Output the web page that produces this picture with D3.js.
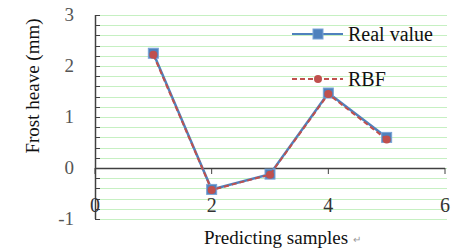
<!DOCTYPE html>
<html>
<head>
<meta charset="utf-8">
<style>
body { margin: 0; background: #fff; }
</style>
</head>
<body>
<svg width="455" height="250"></svg>
<script src="https://d3js.org/d3.v7.min.js"></script>
<script>
var samples = [1, 2, 3, 4, 5];
var realValue = [2.25, -0.42, -0.12, 1.47, 0.6];
var rbfValue = [2.22, -0.43, -0.13, 1.45, 0.56];
var xTicks = [0, 2, 4, 6];
var yTicks = [-1, 0, 1, 2, 3];

var FONT = "Liberation Serif";
var svg = d3.select("svg");
var x = d3.scaleLinear().domain([0, 6]).range([95, 445]);
var y = d3.scaleLinear().domain([-1, 3]).range([219, 15]);

// green gridlines every 0.2
var grid = d3.range(-1, 3.001, 0.2);
svg.append("g").selectAll("line").data(grid).enter().append("line")
  .attr("x1", x(0)).attr("x2", 447)
  .attr("y1", function(d) { return Math.round(y(d)) + 0.5; })
  .attr("y2", function(d) { return Math.round(y(d)) + 0.5; })
  .attr("stroke", "#c6f0c2").attr("stroke-width", 1);

// y axis with inner minor ticks
var yAxis = svg.append("g");
yAxis.append("line").attr("x1", 95.5).attr("x2", 95.5).attr("y1", y(3)).attr("y2", y(-1))
  .attr("stroke", "#404040").attr("stroke-width", 1.5);
yAxis.selectAll(".t").data(grid).enter().append("line")
  .attr("x1", 95).attr("x2", 100)
  .attr("y1", function(d) { return Math.round(y(d)) + 0.5; })
  .attr("y2", function(d) { return Math.round(y(d)) + 0.5; })
  .attr("stroke", "#404040");
yAxis.selectAll("text").data(yTicks).enter().append("text")
  .attr("x", 74).attr("y", function(d) { return y(d) + 6; })
  .attr("text-anchor", "end").attr("font-family", FONT).attr("font-size", 19).attr("fill", "#555")
  .text(function(d) { return d; });

// x axis at y = 0
var xAxis = svg.append("g");
xAxis.append("line").attr("x1", x(0)).attr("x2", x(6)).attr("y1", y(0) + 0.5).attr("y2", y(0) + 0.5)
  .attr("stroke", "#404040").attr("stroke-width", 1.5);
xAxis.selectAll(".t").data(xTicks).enter().append("line")
  .attr("x1", function(d) { return x(d); }).attr("x2", function(d) { return x(d); })
  .attr("y1", y(0)).attr("y2", y(0) + 6)
  .attr("stroke", "#404040");
xAxis.selectAll("text").data(xTicks).enter().append("text")
  .attr("x", function(d) { return x(d); }).attr("y", 212)
  .attr("text-anchor", "middle").attr("font-family", FONT).attr("font-size", 20).attr("fill", "#333")
  .text(function(d) { return d; });

// axis titles
svg.append("text").attr("transform", "translate(39,86) rotate(-90)")
  .attr("text-anchor", "middle").attr("font-family", FONT).attr("font-size", 19).attr("fill", "#111")
  .text("Frost heave (mm)");
svg.append("text").attr("x", 276).attr("y", 244)
  .attr("text-anchor", "middle").attr("font-family", FONT).attr("font-size", 19).attr("fill", "#111")
  .text("Predicting samples");
svg.append("text").attr("x", 353).attr("y", 243)
  .attr("font-size", 10).attr("fill", "#999").text("↵");

var line = function(vals) {
  return d3.line().x(function(d, i) { return x(samples[i]); }).y(function(d) { return y(d); })(vals);
};

// real value series
svg.append("path").attr("d", line(realValue)).attr("fill", "none")
  .attr("stroke", "#4f81bd").attr("stroke-width", 2.5);
svg.append("g").selectAll("rect").data(realValue).enter().append("rect")
  .attr("x", function(d, i) { return x(samples[i]) - 5; })
  .attr("y", function(d) { return y(d) - 5; })
  .attr("width", 10).attr("height", 10)
  .attr("fill", "#4f81bd").attr("stroke", "#7aa3d6").attr("stroke-width", 1);

// RBF series
svg.append("path").attr("d", line(rbfValue)).attr("fill", "none")
  .attr("stroke", "#c0504d").attr("stroke-width", 2).attr("stroke-dasharray", "5,3");
svg.append("g").selectAll("circle").data(rbfValue).enter().append("circle")
  .attr("cx", function(d, i) { return x(samples[i]); })
  .attr("cy", function(d) { return y(d); })
  .attr("r", 4).attr("fill", "#c0504d");

// legend
var lg = svg.append("g");
lg.append("line").attr("x1", 292).attr("x2", 343).attr("y1", 34).attr("y2", 34)
  .attr("stroke", "#4f81bd").attr("stroke-width", 2);
lg.append("rect").attr("x", 313).attr("y", 29).attr("width", 10).attr("height", 10)
  .attr("fill", "#4f81bd").attr("stroke", "#7aa3d6");
lg.append("text").attr("x", 348).attr("y", 41).attr("font-family", FONT).attr("font-size", 20).attr("fill", "#111").text("Real value");
lg.append("line").attr("x1", 292).attr("x2", 343).attr("y1", 79).attr("y2", 79)
  .attr("stroke", "#c0504d").attr("stroke-width", 2).attr("stroke-dasharray", "5,3");
lg.append("circle").attr("cx", 318).attr("cy", 79).attr("r", 4).attr("fill", "#c0504d");
lg.append("text").attr("x", 348).attr("y", 86).attr("font-family", FONT).attr("font-size", 20).attr("fill", "#111").text("RBF");
</script>
</body>
</html>
